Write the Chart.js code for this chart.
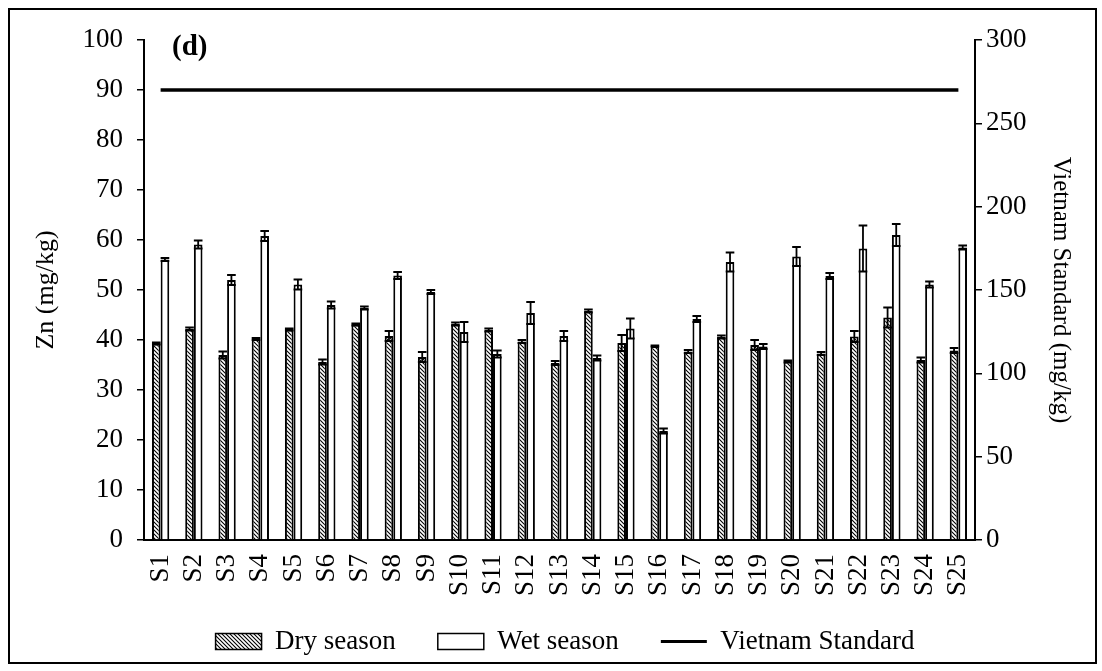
<!DOCTYPE html>
<html>
<head>
<meta charset="utf-8">
<script src="https://cdn.jsdelivr.net/npm/chart.js@4.4.1/dist/chart.umd.min.js"></script>
<style>
  body { margin: 0; background: #fff; }
  #wrap { position: relative; width: 1102px; height: 671px; }
  #frame { position: absolute; left: 8px; top: 8px; width: 1085px; height: 652px; border: 2px solid #000; pointer-events: none; }
</style>
</head>
<body>
<div id="wrap">
  <canvas id="chart" width="1102" height="671"></canvas>
  <div id="frame"></div>
</div>
<script>
// Zn concentration per site, dry vs wet season (mg/kg), with error bars
const sites = ['S1','S2','S3','S4','S5','S6','S7','S8','S9','S10','S11','S12','S13',
  'S14','S15','S16','S17','S18','S19','S20','S21','S22','S23','S24','S25'];
const dryZn  = [39.3, 42.2, 37.0, 40.2, 42.1, 35.6, 43.1, 40.8, 36.6, 43.2, 42.0, 39.7, 35.4,
  45.8, 39.4, 38.8, 37.7, 40.6, 39.0, 35.7, 37.3, 40.7, 44.5, 36.0, 37.9];
const dryErr = [0.2, 0.3, 0.7, 0.2, 0.2, 0.5, 0.2, 1.0, 1.0, 0.3, 0.3, 0.3, 0.4,
  0.3, 1.6, 0.1, 0.3, 0.3, 1.0, 0.2, 0.3, 1.1, 2.0, 0.5, 0.5];
const wetZn  = [56.1, 59.1, 52.0, 60.8, 51.1, 47.0, 46.4, 52.9, 49.6, 41.6, 37.2, 45.4, 40.8,
  36.4, 42.3, 21.8, 44.2, 55.6, 38.7, 56.7, 52.8, 58.3, 61.0, 51.1, 58.5];
const wetErr = [0.3, 0.8, 1.0, 1.0, 1.0, 0.7, 0.3, 0.7, 0.4, 2.0, 0.7, 2.2, 1.0,
  0.5, 2.0, 0.5, 0.6, 1.9, 0.5, 1.9, 0.6, 4.6, 2.2, 0.6, 0.4];
const vnStandard = [270, 270, 270, 270, 270, 270, 270, 270, 270, 270, 270, 270, 270,
  270, 270, 270, 270, 270, 270, 270, 270, 270, 270, 270, 270];
const leftTicks = { min: 0, max: 100, step: 10 };
const rightTicks = { min: 0, max: 300, step: 50 };

const serif = 'Liberation Serif';
const fontSize = 27;
const ctx = document.getElementById('chart').getContext('2d');

// diagonal hatch for the dry-season bars
const hatch = (() => {
  const c = document.createElement('canvas');
  c.width = 4; c.height = 4;
  const g = c.getContext('2d');
  g.fillStyle = '#fff';
  g.fillRect(0, 0, 4, 4);
  g.strokeStyle = '#000';
  g.lineWidth = 1.1;
  g.beginPath();
  g.moveTo(0, 0); g.lineTo(4, 4);
  g.moveTo(-1, 3); g.lineTo(1, 5);
  g.moveTo(3, -1); g.lineTo(5, 1);
  g.stroke();
  return ctx.createPattern(c, 'repeat');
})();

const errorBars = {
  id: 'errorBars',
  afterDatasetsDraw(chart) {
    const c = chart.ctx, y = chart.scales.y;
    c.save();
    c.strokeStyle = '#000';
    c.lineWidth = 1.8;
    [[0, dryErr], [1, wetErr]].forEach(([di, errs]) => {
      const vals = chart.data.datasets[di].data;
      chart.getDatasetMeta(di).data.forEach((bar, i) => {
        const top = y.getPixelForValue(vals[i] + errs[i]);
        const bot = y.getPixelForValue(vals[i] - errs[i]);
        const hw = bar.width / 2;
        c.beginPath();
        c.moveTo(bar.x, top); c.lineTo(bar.x, bot);
        c.moveTo(bar.x - hw, top); c.lineTo(bar.x + hw, top);
        c.moveTo(bar.x - hw, bot); c.lineTo(bar.x + hw, bot);
        c.stroke();
      });
    });
    c.restore();
  }
};

const panelTag = {
  id: 'panelTag',
  afterDraw(chart) {
    const c = chart.ctx, a = chart.chartArea;
    c.save();
    c.font = 'bold 29px "' + serif + '"';
    c.fillStyle = '#000';
    c.textBaseline = 'middle';
    c.fillText('(d)', a.left + 28, a.top + 8);
    c.restore();
  }
};

// wide legend spacing without letting it eat the plot height
const legendFit = {
  id: 'legendFit',
  afterInit(chart) {
    const lg = chart.legend;
    const fit = lg.fit;
    lg.fit = function () { fit.call(this); this.height = 69; };
  },
  afterLayout(chart) {
    const lg = chart.legend;
    lg.top -= 16; lg.bottom -= 16;
    lg.left += 14; lg.right += 14;
  }
};

new Chart(ctx, {
  type: 'bar',
  data: {
    labels: sites,
    datasets: [
      {
        label: 'Dry season',
        data: dryZn,
        backgroundColor: hatch,
        borderColor: '#000',
        borderWidth: 2,
        categoryPercentage: 0.52,
        barPercentage: 1.0,
        yAxisID: 'y'
      },
      {
        label: 'Wet season',
        data: wetZn,
        backgroundColor: '#fff',
        borderColor: '#000',
        borderWidth: 2,
        categoryPercentage: 0.52,
        barPercentage: 1.0,
        yAxisID: 'y'
      },
      {
        type: 'line',
        label: 'Vietnam Standard',
        data: vnStandard,
        borderColor: '#000',
        backgroundColor: '#000',
        borderWidth: 3.5,
        pointRadius: 0,
        fill: false,
        yAxisID: 'y2'
      }
    ]
  },
  options: {
    responsive: false,
    animation: false,
    layout: { padding: { top: 40, bottom: 0 } },
    plugins: {
      tooltip: { enabled: false },
      legend: {
        position: 'bottom',
        labels: {
          usePointStyle: true,
          pointStyleWidth: 46,
          boxHeight: 16,
          padding: 42,
          color: '#000',
          font: { family: serif, size: fontSize },
          generateLabels: (chart) => chart.data.datasets.map((ds, i) => ({
            text: ds.label,
            fillStyle: ds.backgroundColor,
            strokeStyle: '#000',
            lineWidth: i === 2 ? 3 : 1.5,
            pointStyle: i === 2 ? 'line' : 'rect',
            hidden: false,
            datasetIndex: i,
            fontColor: '#000'
          }))
        }
      }
    },
    scales: {
      x: {
        grid: { display: false },
        border: { color: '#000', width: 2 },
        ticks: { autoSkip: false, color: '#000', font: { family: serif, size: fontSize }, minRotation: 90, maxRotation: 90, padding: 6 },
        afterFit: (s) => { s.height = 62; }
      },
      y: {
        position: 'left',
        min: leftTicks.min, max: leftTicks.max,
        grid: { drawOnChartArea: false, tickLength: 7, color: '#000', lineWidth: 1.5 },
        border: { color: '#000', width: 2 },
        ticks: { stepSize: leftTicks.step, color: '#000', font: { family: serif, size: fontSize }, padding: 14 },
        title: { display: true, text: 'Zn (mg/kg)', color: '#000', font: { family: serif, size: 26 }, padding: { top: 31, bottom: 0 } },
        afterFit: (s) => { s.width = 144; }
      },
      y2: {
        position: 'right',
        min: rightTicks.min, max: rightTicks.max,
        grid: { drawOnChartArea: false, tickLength: 7, color: '#000', lineWidth: 1.5 },
        border: { color: '#000', width: 2 },
        ticks: { stepSize: rightTicks.step, color: '#000', font: { family: serif, size: fontSize }, padding: 4 },
        title: { display: true, text: 'Vietnam Standard (mg/kg)', color: '#000', font: { family: serif, size: 25 }, padding: { top: 26, bottom: 0 } },
        afterFit: (s) => { s.width = 127; }
      }
    }
  },
  plugins: [errorBars, panelTag, legendFit]
});
</script>
</body>
</html>
